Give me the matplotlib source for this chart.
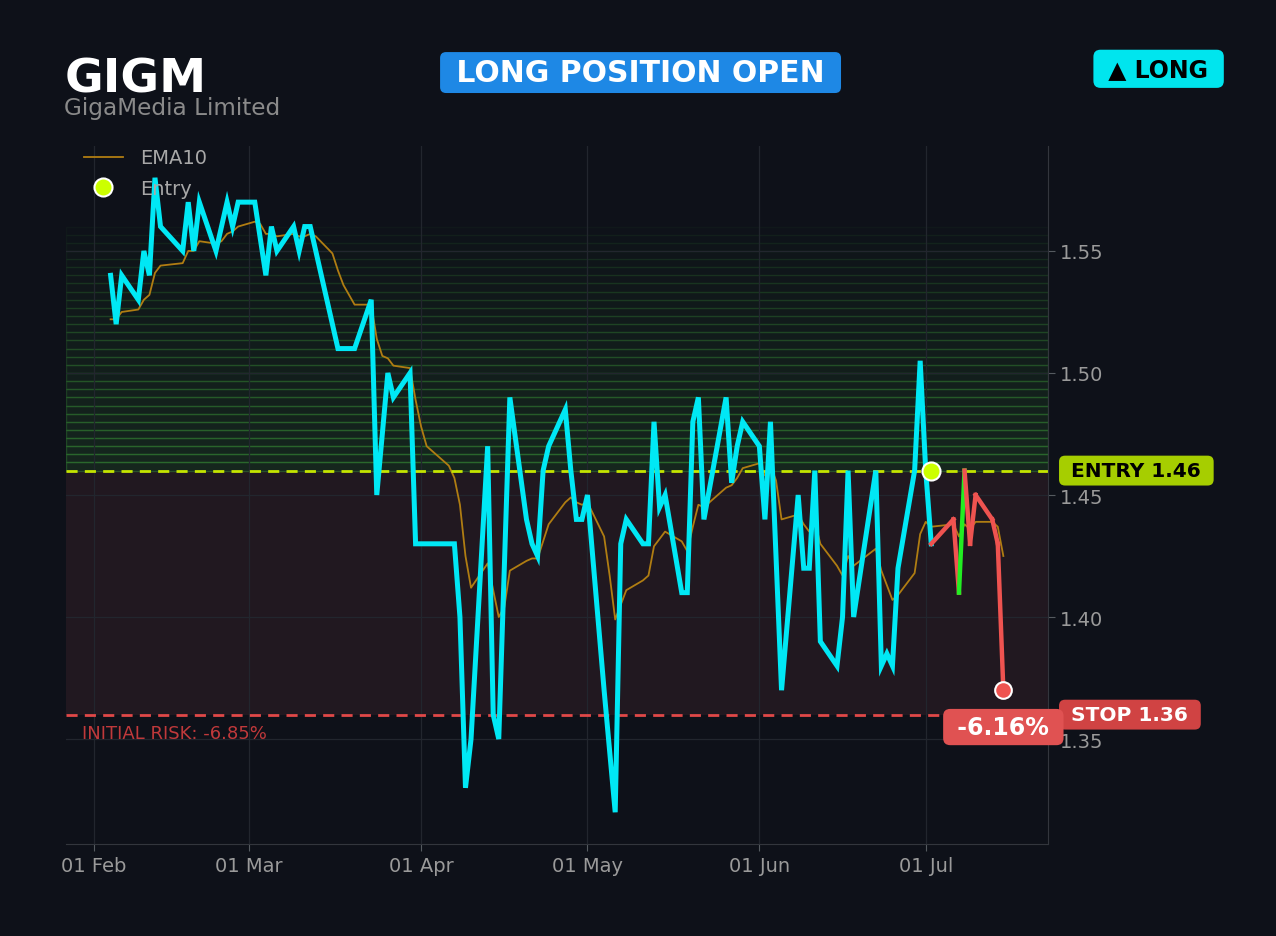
import numpy as np
import pandas as pd
import matplotlib
matplotlib.use("Agg")
import matplotlib.pyplot as plt
import matplotlib.dates as mdates
import matplotlib.transforms as mtransforms

# ---- data ----
ticker = "GIGM"
company = "GigaMedia Limited"
holidays = ["2026-02-16", "2026-04-03", "2026-05-25", "2026-06-19", "2026-07-03"]
dates = pd.bdate_range("2026-02-04", "2026-07-15", freq="C", holidays=holidays)

close = [
    # Feb
    1.54, 1.52, 1.54, 1.53, 1.55, 1.54, 1.58, 1.56, 1.55, 1.57, 1.55, 1.57,
    1.55, 1.56, 1.57, 1.56, 1.57,
    # Mar
    1.57, 1.555, 1.54, 1.56, 1.55, 1.56, 1.55, 1.56, 1.56, 1.55, 1.52, 1.51,
    1.51, 1.51, 1.51, 1.53, 1.45, 1.475, 1.50, 1.49, 1.50, 1.43,
    # Apr
    1.43, 1.43, 1.43, 1.43, 1.40, 1.33, 1.35, 1.47, 1.36, 1.35, 1.42, 1.49,
    1.44, 1.43, 1.425, 1.46, 1.47, 1.485, 1.46, 1.44, 1.44,
    # May
    1.45, 1.37, 1.345, 1.32, 1.43, 1.44, 1.43, 1.43, 1.48, 1.445, 1.45, 1.41,
    1.41, 1.48, 1.49, 1.44, 1.49, 1.455, 1.47, 1.48,
    # Jun
    1.47, 1.44, 1.48, 1.425, 1.37, 1.45, 1.42, 1.42, 1.46, 1.39, 1.38, 1.40,
    1.46, 1.40, 1.46, 1.38, 1.385, 1.38, 1.42, 1.46, 1.505,
    # Jul
    1.46, 1.43, 1.44, 1.41, 1.46, 1.43, 1.45, 1.44, 1.43, 1.37,
]

ema10 = [
    1.522, 1.522, 1.525, 1.526, 1.530, 1.532, 1.541, 1.544, 1.545, 1.550, 1.550, 1.554,
    1.553, 1.554, 1.557, 1.558, 1.560,
    1.562, 1.561, 1.557, 1.557, 1.556, 1.557, 1.556, 1.556, 1.557, 1.556, 1.549, 1.542,
    1.536, 1.532, 1.528, 1.528, 1.514, 1.507, 1.506, 1.503, 1.502, 1.489,
    1.478, 1.470, 1.462, 1.457, 1.446, 1.425, 1.412, 1.422, 1.411, 1.400, 1.404, 1.419,
    1.423, 1.424, 1.424, 1.431, 1.438, 1.447, 1.449, 1.447, 1.446,
    1.447, 1.433, 1.417, 1.399, 1.405, 1.411, 1.415, 1.417, 1.429, 1.432, 1.435, 1.431,
    1.427, 1.437, 1.446, 1.445, 1.453, 1.454, 1.457, 1.461,
    1.463, 1.458, 1.462, 1.456, 1.440, 1.442, 1.438, 1.435, 1.439, 1.430, 1.421, 1.417,
    1.425, 1.421, 1.428, 1.419, 1.413, 1.407, 1.409, 1.418, 1.434,
    1.439, 1.437, 1.438, 1.433, 1.438, 1.436, 1.439, 1.439, 1.437, 1.425,
]

entry_date = pd.Timestamp("2026-07-02")
entry_price = 1.46
stop_price = 1.36
target_price = 1.56

assert len(dates) == len(close) == len(ema10)

# ---- colours ----
BG = "#0e1119"
CYAN = "#00e8f5"
EMA_COL = "#b07d12"
ENTRY_COL = "#c4e400"
STOP_COL = "#e04848"
UP_COL = "#22ee22"
DOWN_COL = "#ef5350"

fig = plt.figure(figsize=(12.76, 9.37), dpi=100, facecolor=BG)
ax = fig.add_axes([0.0517, 0.0982, 0.7696, 0.7449], facecolor=BG)

# risk zone and reward gradient
ax.axhspan(stop_price, entry_price, color="#211820", lw=0, zorder=0)
n_bands = 30
edges = np.linspace(entry_price, target_price, n_bands + 1)
for k in range(n_bands):
    t = k / (n_bands - 1)
    ax.axhspan(edges[k], edges[k + 1],
               facecolor=(0.18, 0.43, 0.18, 0.23 - 0.21 * t),
               edgecolor=(0.20, 0.50, 0.20, 0.50 - 0.44 * t), lw=1.0, zorder=0)

ax.grid(True, color="#22262e", lw=0.9, zorder=0.5)

# price path
i_entry = list(dates).index(entry_date)
ax.plot(dates[:i_entry + 1], close[:i_entry + 1], color=CYAN, lw=3.6,
        solid_joinstyle="miter", zorder=3)
for i in range(i_entry, len(close) - 1):
    col = UP_COL if close[i + 1] >= entry_price else DOWN_COL
    ax.plot(dates[i:i + 2], close[i:i + 2], color=col, lw=3.2, zorder=3)

ax.plot(dates, ema10, color=EMA_COL, lw=1.3, zorder=2, label="EMA10")

ax.axhline(entry_price, color=ENTRY_COL, lw=2, ls=(0, (4, 2.6)), zorder=2.5)
ax.axhline(stop_price, color=STOP_COL, lw=2, ls=(0, (4, 2.6)), zorder=2.5)

ax.plot([entry_date], [entry_price], "o", ms=13, mfc="#ccff00", mec="white",
        mew=1.5, zorder=5, ls="none", label="Entry")
ax.plot([dates[-1]], [close[-1]], "o", ms=12, mfc=DOWN_COL, mec="white",
        mew=1.5, zorder=5)

# axes styling
ax.margins(x=0.05, y=0.05)
ax.xaxis.set_major_locator(mdates.MonthLocator())
ax.xaxis.set_major_formatter(mdates.DateFormatter("%d %b"))
ax.yaxis.tick_right()
ax.yaxis.set_major_locator(plt.MultipleLocator(0.05))
ax.yaxis.set_major_formatter(plt.FormatStrFormatter("%.2f"))
ax.tick_params(colors="#9a9a9a", labelsize=14, length=5, color="#555a60")
for side in ("top", "left"):
    ax.spines[side].set_visible(False)
for side in ("right", "bottom"):
    ax.spines[side].set_color("#33363d")

leg = ax.legend(loc="upper left", bbox_to_anchor=(0.004, 1.016), frameon=False,
                fontsize=14, labelcolor="#a8a8a8", handlelength=2.05,
                handletextpad=0.85, labelspacing=0.6, borderaxespad=0.3)

# right-hand price tags
tr = mtransforms.blended_transform_factory(ax.transAxes, ax.transData)
ax.text(1.0168, entry_price, f" ENTRY {entry_price:.2f} ", transform=tr, ha="left",
        va="center", fontsize=14.5, fontweight="bold", color="black", zorder=6,
        bbox=dict(boxstyle="round,pad=0.27,rounding_size=0.3", fc="#a6ce00", ec="none"),
        clip_on=False)
ax.text(1.0168, stop_price, f" STOP {stop_price:.2f} ", transform=tr, ha="left",
        va="center", fontsize=14.5, fontweight="bold", color="white", zorder=6,
        bbox=dict(boxstyle="round,pad=0.27,rounding_size=0.3", fc="#d04343", ec="none"),
        clip_on=False)

pnl = (close[-1] / entry_price - 1) * 100
risk = (stop_price / entry_price - 1) * 100
ax.annotate(f" {pnl:.2f}% ", xy=(dates[-1], close[-1]), xytext=(0, -26.5),
            textcoords="offset points", ha="center", va="center", fontsize=17,
            fontweight="bold", color="white", zorder=7,
            bbox=dict(boxstyle="round,pad=0.26,rounding_size=0.3", fc="#e05252", ec="none"))
ax.annotate(f"INITIAL RISK: {risk:.2f}%", xy=(0.016, stop_price),
            xycoords=tr, xytext=(0, -13), textcoords="offset points",
            ha="left", va="center", fontsize=13, color="#c0393b")

# header
fig.text(0.051, 0.915, ticker, fontsize=34, fontweight="bold", color="white",
         ha="left", va="center")
fig.text(0.050, 0.884, company, fontsize=16.7, color="#8a8a8a", ha="left", va="center")
fig.text(0.502, 0.9215, " LONG POSITION OPEN ", fontsize=21.5, fontweight="bold",
         color="white", ha="center", va="center",
         bbox=dict(boxstyle="round,pad=0.2,rounding_size=0.2", fc="#1e88e5", ec="none"))
fig.text(0.908, 0.9255, " ▲ LONG ", fontsize=17, fontweight="bold", color="black",
         ha="center", va="center",
         bbox=dict(boxstyle="round,pad=0.3,rounding_size=0.3", fc="#00e5ee", ec="none"))

fig.savefig("out.png", dpi=100, facecolor=BG)
